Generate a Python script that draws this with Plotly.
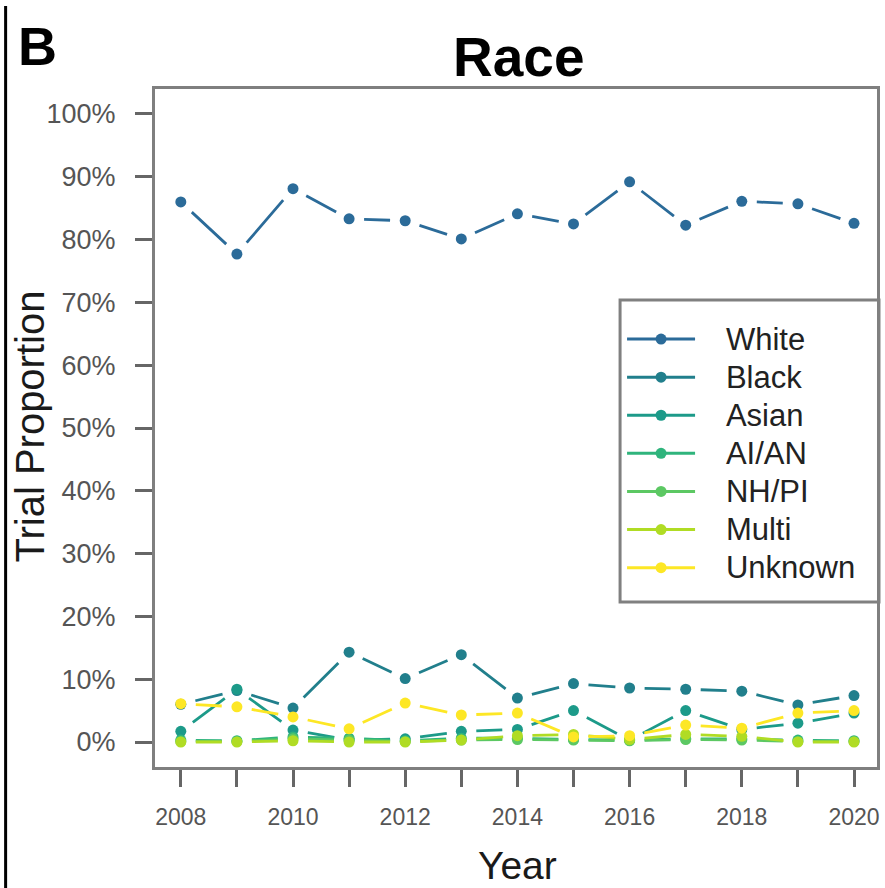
import math
import plotly.graph_objects as go

years = list(range(2008, 2021))
series_names = ["White", "Black", "Asian", "AI/AN", "NH/PI", "Multi", "Unknown"]
white = [86.0, 77.7, 88.1, 83.3, 83.0, 80.1, 84.1, 82.5, 89.2, 82.3, 86.1, 85.7, 82.6]
black = [6.0, 8.2, 5.4, 14.3, 10.1, 13.9, 7.0, 9.3, 8.6, 8.4, 8.1, 5.9, 7.4]
asian = [1.7, 8.4, 1.9, 0.3, 0.5, 1.7, 2.0, 5.0, 0.3, 5.0, 2.0, 3.0, 4.6]
aian = [0.3, 0.2, 0.8, 0.6, 0.2, 0.6, 0.6, 0.4, 0.3, 0.5, 0.5, 0.3, 0.2]
nhpi = [0.1, 0.1, 0.5, 0.3, 0.1, 0.3, 0.4, 0.3, 0.2, 0.4, 0.3, 0.1, 0.1]
multi = [0.0, 0.0, 0.2, 0.0, 0.0, 0.3, 1.0, 1.2, 0.4, 1.2, 0.9, 0.0, 0.0]
unknown = [6.1, 5.6, 4.0, 2.1, 6.2, 4.3, 4.6, 0.8, 1.0, 2.7, 2.2, 4.6, 5.0]
series_values = [white, black, asian, aian, nhpi, multi, unknown]
colors = ["#2b6b99", "#217f8c", "#1c9a89", "#2fb47c", "#5cc863", "#b0dc24", "#fde725"]

y_ticks = [0, 10, 20, 30, 40, 50, 60, 70, 80, 90, 100]
y_ticktext = [f"{v}%" for v in y_ticks]
x_ticktext = [str(y) if y % 2 == 0 else "" for y in years]

W, H = 885, 888
ML, MR, MT, MB = 155, 5, 89, 121
PW, PH = W - ML - MR, H - MT - MB
XR = [2007.54, 2020.41]
YR = [-3.98, 103.98]
pxx = PW / (XR[1] - XR[0])
pxy = PH / (YR[1] - YR[0])
GAP = 15
FONT = "Liberation Sans, Arial, sans-serif"
NB = "\u00a0"

fig = go.Figure()
for name, vals, col in zip(series_names, series_values, colors):
    for i in range(len(years) - 1):
        L = math.hypot((years[i + 1] - years[i]) * pxx, (vals[i + 1] - vals[i]) * pxy)
        d = max(int(round(L - 2 * GAP)), 1)
        fig.add_trace(go.Scatter(
            x=[years[i], years[i + 1]], y=[vals[i], vals[i + 1]], mode="lines",
            line=dict(color=col, width=2.8, dash=f"0px,{GAP}px,{d}px,{GAP}px"),
            showlegend=False, hoverinfo="skip"))
    fig.add_trace(go.Scatter(
        x=years, y=vals, mode="markers", marker=dict(color=col, size=11),
        showlegend=False, name=name))
    fig.add_trace(go.Scatter(
        x=[None], y=[None], mode="lines+markers",
        name=f"<span style='font-size:31px'>{NB * 3}{name}</span>",
        line=dict(color=col, width=3), marker=dict(color=col, size=11),
        showlegend=True))

def px(xp):
    return (xp - ML) / PW

def py(yp):
    return (H - MB - yp) / PH

fig.update_layout(
    width=W, height=H,
    margin=dict(l=ML, r=MR, t=MT, b=MB),
    paper_bgcolor="white", plot_bgcolor="white",
    font=dict(family=FONT, color="#4d4d4d"),
    showlegend=True,
    legend=dict(
        x=px(624), y=py(315), xanchor="left", yanchor="top",
        bgcolor="rgba(0,0,0,0)", borderwidth=0,
        font=dict(family=FONT, size=27, color="#222222"),
        itemwidth=68, tracegroupgap=0,
    ),
    xaxis=dict(
        range=XR, tickmode="array", tickvals=years, ticktext=x_ticktext,
        showgrid=False, zeroline=False, showline=True, mirror=True,
        linecolor="#7f7f7f", linewidth=3, ticks="outside", ticklen=17,
        tickwidth=2.5, tickcolor="#666666", ticklabelstandoff=10,
        tickfont=dict(family=FONT, size=23, color="#555555"),
    ),
    yaxis=dict(
        range=YR, tickmode="array", tickvals=y_ticks, ticktext=y_ticktext,
        showgrid=False, zeroline=False, showline=True, mirror=True,
        linecolor="#7f7f7f", linewidth=3, ticks="outside", ticklen=17,
        tickwidth=2.5, tickcolor="#666666", ticklabelstandoff=14,
        tickfont=dict(family=FONT, size=27, color="#555555"),
    ),
    shapes=[
        dict(type="rect", xref="paper", yref="paper",
             x0=px(622), x1=px(882), y0=py(602), y1=py(300),
             line=dict(color="#808080", width=3), fillcolor="rgba(0,0,0,0)"),
        dict(type="line", xref="paper", yref="paper",
             x0=px(5), x1=px(5), y0=py(888), y1=py(6),
             line=dict(color="black", width=3)),
    ],
    annotations=[
        dict(text="<b>Race</b>", xref="paper", yref="paper", x=px(520), y=py(57),
             xanchor="center", yanchor="middle", showarrow=False,
             font=dict(family=FONT, size=55, color="black")),
        dict(text="<b>B</b>", xref="paper", yref="paper", x=px(15), y=py(46),
             xanchor="left", yanchor="middle", showarrow=False,
             font=dict(family=FONT, size=54, color="black")),
        dict(text="Trial Proportion", xref="paper", yref="paper", x=px(29), y=py(427),
             xanchor="center", yanchor="middle", textangle=-90, showarrow=False,
             font=dict(family=FONT, size=40, color="#1a1a1a")),
        dict(text="Year", xref="paper", yref="paper", x=px(519), y=py(866),
             xanchor="center", yanchor="middle", showarrow=False,
             font=dict(family=FONT, size=39, color="#1a1a1a")),
    ],
)

fig.write_html("out.html", config={"displayModeBar": False},
               post_script="document.body.style.margin='0';")
